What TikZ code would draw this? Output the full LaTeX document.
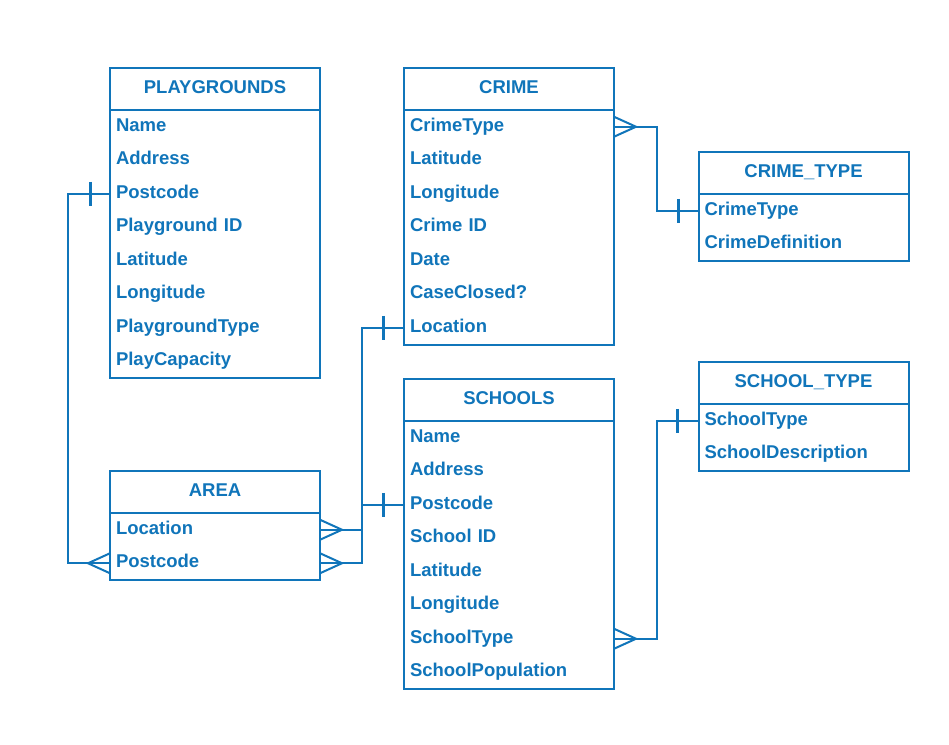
\documentclass[tikz,border=0pt]{standalone}
\usepackage{fontspec}
\setmainfont{Liberation Sans}
\usetikzlibrary{positioning}
\definecolor{erblue}{RGB}{16,117,186}
\tikzset{
  rel/.style={draw=erblue,line width=2pt},
  enthead/.style={draw=erblue,line width=2pt,minimum width=210pt,minimum height=42pt,outer sep=0pt,inner sep=0pt,text=erblue,font=\bfseries\fontsize{18.5}{22}\selectfont,text height=13.2pt,text depth=4.5pt},
  entrow/.style={minimum width=210pt,minimum height=33.5pt,outer sep=0pt,inner ysep=0pt,inner xsep=6pt,text width=198pt,align=left,text=erblue,font=\bfseries\fontsize{18.5}{22}\selectfont,text height=13.2pt,text depth=4.5pt},
  crowfoot/.pic={\draw[rel] (0,-10) -- (22,0) -- (0,10);},
  onebar/.pic={\draw[rel,line width=3pt] (0,-12) -- (0,12);}
}
\begin{document}
\begin{tikzpicture}[x=1pt,y=-1pt]
  \useasboundingbox[fill=white] (0,0) rectangle (949,744);
  %playgrounds
  \node[enthead] (pg-h) at (215,89) {PLAYGROUNDS};
  \foreach \t [count=\i, remember=\i as \j (initially h)] in {Name,Address,Postcode,Playground ID,Latitude,Longitude,PlaygroundType,PlayCapacity}
    \node[entrow,below=0pt of pg-\j] (pg-\i) {\t};
  \draw[rel] (pg-h.north west) rectangle (pg-8.south east);
  %crime
  \node[enthead] (cr-h) at (509,89) {CRIME};
  \foreach \t [count=\i, remember=\i as \j (initially h)] in {CrimeType,Latitude,Longitude,Crime ID,Date,CaseClosed?,Location}
    \node[entrow,below=0pt of cr-\j] (cr-\i) {\t};
  \draw[rel] (cr-h.north west) rectangle (cr-7.south east);
  %crime type
  \node[enthead] (ct-h) at (803.5,173) {CRIME\_TYPE};
  \foreach \t [count=\i, remember=\i as \j (initially h)] in {CrimeType,CrimeDefinition}
    \node[entrow,below=0pt of ct-\j] (ct-\i) {\t};
  \draw[rel] (ct-h.north west) rectangle (ct-2.south east);
  %schools
  \node[enthead] (sc-h) at (509,400) {SCHOOLS};
  \foreach \t [count=\i, remember=\i as \j (initially h)] in {Name,Address,Postcode,School ID,Latitude,Longitude,SchoolType,SchoolPopulation}
    \node[entrow,below=0pt of sc-\j] (sc-\i) {\t};
  \draw[rel] (sc-h.north west) rectangle (sc-8.south east);
  %school type
  \node[enthead] (st-h) at (803.5,383) {SCHOOL\_TYPE};
  \foreach \t [count=\i, remember=\i as \j (initially h)] in {SchoolType,SchoolDescription}
    \node[entrow,below=0pt of st-\j] (st-\i) {\t};
  \draw[rel] (st-h.north west) rectangle (st-2.south east);
  %area
  \node[enthead] (ar-h) at (215,492) {AREA};
  \foreach \t [count=\i, remember=\i as \j (initially h)] in {Location,Postcode}
    \node[entrow,below=0pt of ar-\j] (ar-\i) {\t};
  \draw[rel] (ar-h.north west) rectangle (ar-2.south east);

  %relations
  \coordinate (lbus) at (68,0);
  \coordinate (abus) at (362,0);
  \coordinate (cbus) at (657,0);
  \draw[rel] (pg-3.west) -| (lbus |- ar-2.west) -- (ar-2.west);
  \draw[rel] (ar-1.east) -| (abus |- cr-7.west) -- (cr-7.west);
  \draw[rel] (ar-2.east) -| (abus |- sc-3.west) -- (sc-3.west);
  \draw[rel] (cr-1.east) -| (cbus |- ct-1.west) -- (ct-1.west);
  \draw[rel] (sc-7.east) -| (cbus |- st-1.west) -- (st-1.west);
  %ends
  \pic at ([xshift=-20pt]pg-3.west) {onebar};
  \pic[xscale=-1] at (ar-2.west) {crowfoot};
  \pic at (ar-1.east) {crowfoot};
  \pic at (ar-2.east) {crowfoot};
  \pic at ([xshift=-21pt]cr-7.west) {onebar};
  \pic at ([xshift=-21pt]sc-3.west) {onebar};
  \pic at (cr-1.east) {crowfoot};
  \pic at (sc-7.east) {crowfoot};
  \pic at ([xshift=-20pt]ct-1.west) {onebar};
  \pic at ([xshift=-21pt]st-1.west) {onebar};
\end{tikzpicture}
\end{document}
